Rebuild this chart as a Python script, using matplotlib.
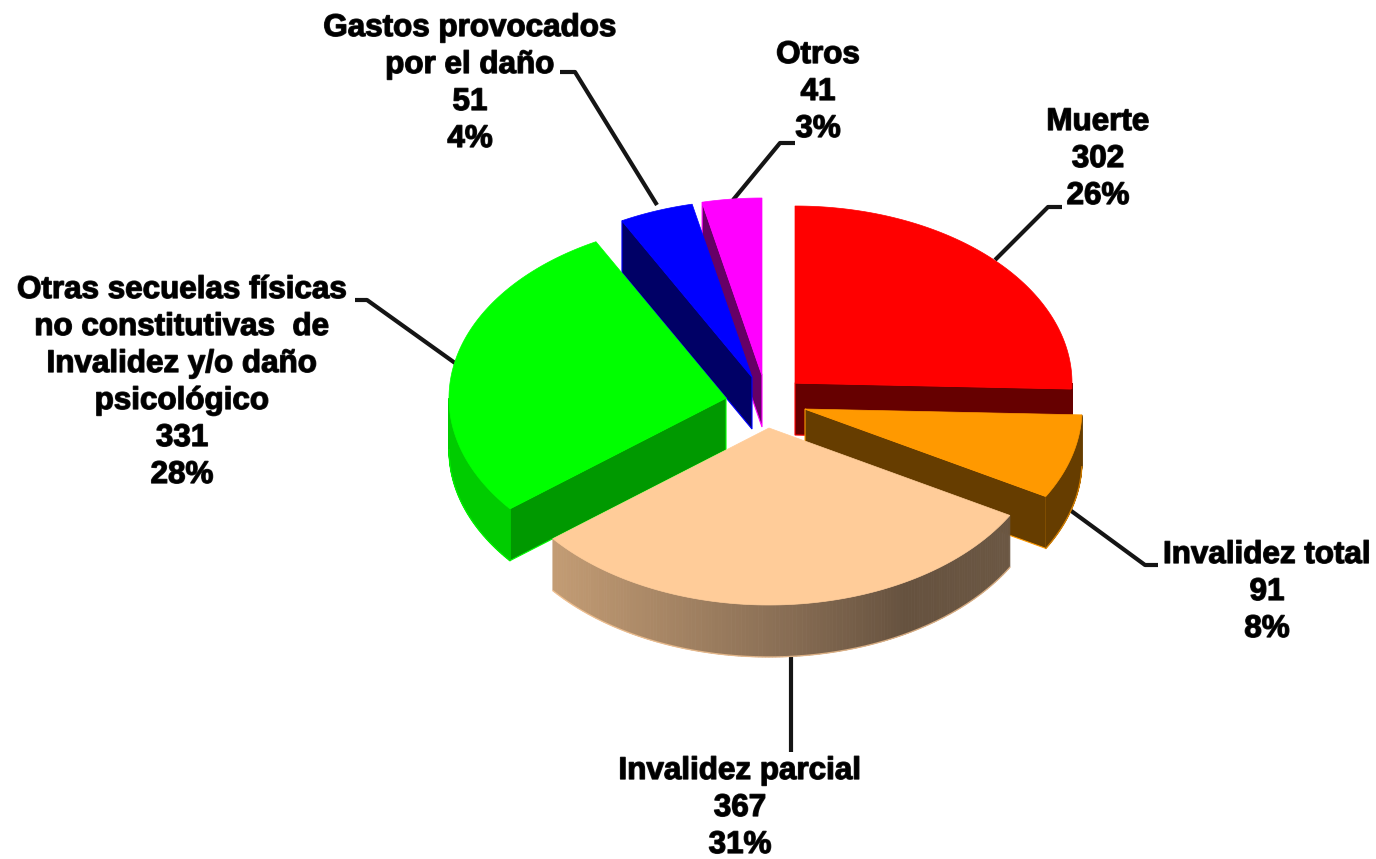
"""Exploded 3D-look pie of damage categories. Outputs out.png."""
import numpy as np
import matplotlib
matplotlib.use("Agg")
import matplotlib.pyplot as plt
import matplotlib.patheffects as pe
from matplotlib.colors import LinearSegmentedColormap

# ---- data --------------------------------------------------------------
names = ["Muerte", "Invalidez total", "Invalidez parcial",
         "Otras secuelas físicas\nno constitutivas  de\nInvalidez y/o daño\npsicológico",
         "Gastos provocados\npor el daño", "Otros"]
values = [302, 91, 367, 331, 51, 41]

# ---- styles (pixel canvas, y down) -------------------------------------
RX, RY, DEPTH = 277, 177, 52
apex = [(795, 383), (805, 409), (769, 428), (726, 398), (752, 377), (762, 375)]
top_col = ["#ff0000", "#ff9900", "#ffcc99", "#00ff00", "#0000ff", "#ff00ff"]
face_col = ["#660000", "#663d00", "#665240", "#009900", "#000066", "#660066"]
rim_col = ["#660000", "#663d00", None, "#00cc00", "#000066", "#660066"]
draw_order = [5, 4, 3, 0, 1, 2]

peach_rim = LinearSegmentedColormap.from_list(
    "peach_rim", [(0, "#c39c74"), (0.5, "#8a6f55"), (0.78, "#66523f"), (1, "#6b5743")])

# label centre x, first line y, and leader-line points
label_x = [1098, 1267, 740, 182, 470, 818]
label_y = [122, 555, 771, 290, 28, 55]
leaders = [[(995, 260), (1048, 207), (1062, 207)],
           [(1070, 510), (1145, 565), (1158, 565)],
           [(791, 655), (791, 752)],
           [(355, 300), (367, 300), (455, 363)],
           [(560, 72), (575, 72), (657, 205)],
           [(795, 143), (780, 143), (733, 200)]]
LINE_H = 37

plt.rcParams["font.family"] = ["Liberation Sans", "DejaVu Sans"]

fig = plt.figure(figsize=(13.76, 8.59), dpi=100)
ax = fig.add_axes([0, 0, 1, 1])
ax.set_xlim(0, 1376); ax.set_ylim(859, 0); ax.axis("off")


def rim_pt(c, t):
    return c[0] + RX * np.sin(t), c[1] - RY * np.cos(t)


def draw_slice(i, t0, t1):
    c = apex[i]
    z = 3 + draw_order.index(i)
    # radial faces, only those turned towards the viewer
    for t, seen in ((t0, np.sin(t0) < -1e-6), (t1, np.sin(t1) > 1e-6)):
        if seen:
            x, y = rim_pt(c, t)
            ax.fill([c[0], x, x, c[0]], [c[1], y, y + DEPTH, c[1] + DEPTH],
                    fc=face_col[i], ec=top_col[i], lw=0.8, zorder=z)
    # outer rim, lower half of the ellipse only
    a, b = max(t0, np.pi / 2), min(t1, 3 * np.pi / 2)
    if b > a:
        ts = np.linspace(a, b, 160)
        xs, ys = rim_pt(c, ts)
        for k in range(len(ts) - 1):
            if rim_col[i] is None:
                col = peach_rim((xs[k] - 553) / (1008 - 553))
            else:
                col = rim_col[i]
            ax.fill([xs[k], xs[k + 1], xs[k + 1], xs[k]],
                    [ys[k], ys[k + 1], ys[k + 1] + DEPTH, ys[k] + DEPTH],
                    fc=col, ec=col, lw=0.6, zorder=z)
        ax.plot(xs, ys + DEPTH, color=top_col[i], lw=1.0, alpha=0.7, zorder=z)
    # top surface
    ts = np.linspace(t0, t1, 120)
    xs, ys = rim_pt(c, ts)
    ax.fill(np.r_[c[0], xs], np.r_[c[1], ys], fc=top_col[i], ec=top_col[i], lw=0.5, zorder=z)


total = sum(values)
edges = 2 * np.pi * np.cumsum([0] + values) / total
for i in draw_order:
    draw_slice(i, edges[i], edges[i + 1])

# ---- leaders + labels --------------------------------------------------
for pts in leaders:
    ax.plot(*zip(*pts), color="#151515", lw=3.0, solid_capstyle="butt", zorder=2)

for name, v, x, y in zip(names, values, label_x, label_y):
    lines = name.split("\n") + [str(v), f"{round(100 * v / total)}%"]
    for k, s in enumerate(lines):
        ax.text(x, y + k * LINE_H, s, fontsize=22.6, fontweight="bold", color="black",
                ha="center", va="center", zorder=20,
                path_effects=[pe.withStroke(linewidth=1.0, foreground="#222222")])

fig.savefig("out.png", dpi=100)
